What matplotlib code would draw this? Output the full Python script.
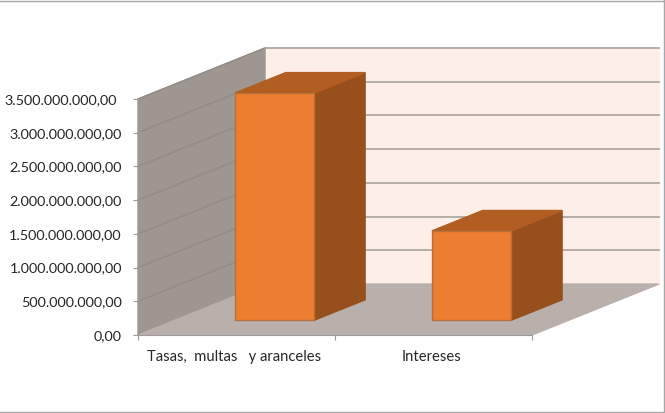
import matplotlib
matplotlib.use('Agg')
import matplotlib.pyplot as plt
from matplotlib.lines import Line2D
from matplotlib.patches import Polygon
from matplotlib.ticker import FuncFormatter
from matplotlib.transforms import ScaledTranslation

categories = ['Tasas,  multas   y aranceles', 'Intereses']
values = [3370000000, 1325000000]
y_ticks = [0, 500000000, 1000000000, 1500000000, 2000000000, 2500000000, 3000000000, 3500000000]

W, H = 665, 413
# front plane of the box, in pixels
LEFT, RIGHT, TOP, BOTTOM = 138, 532, 99, 335
Y_MAX = 3500000000
# depth offset of the oblique projection, in data units
DEPTH_X = 127 / ((RIGHT - LEFT) / 2)
DEPTH_Y = 51 / ((BOTTOM - TOP) / Y_MAX)


def project(x, y, d):
    return (x + d * DEPTH_X, y + d * DEPTH_Y)


def face(ax, corners, color, edge=None, z=1):
    pts = [project(*c) for c in corners]
    ax.add_patch(Polygon(pts, closed=True, facecolor=color, edgecolor=edge or color,
                         linewidth=1, clip_on=False, zorder=z))


def es_number(v, pos=None):
    return f'{v:,.2f}'.replace(',', 'X').replace('.', ',').replace('X', '.')


plt.rcParams['font.family'] = ['Lato', 'DejaVu Sans']

fig = plt.figure(figsize=(W / 100, H / 100), dpi=100)
ax = fig.add_axes([LEFT / W, 1 - BOTTOM / H, (RIGHT - LEFT) / W, (BOTTOM - TOP) / H])
ax.patch.set_visible(False)
ax.set_xlim(0, 2)
ax.set_ylim(0, Y_MAX)

# walls and floor
face(ax, [(0, 0, 1), (2, 0, 1), (2, Y_MAX, 1), (0, Y_MAX, 1)], '#FDEEE8')
face(ax, [(0, 0, 0), (0, 0, 1), (0, Y_MAX, 1), (0, Y_MAX, 0)], '#9E9791')
face(ax, [(0, 0, 0), (2, 0, 0), (2, 0, 1), (0, 0, 1)], '#B9AFAB')

# gridlines
for t in y_ticks[1:]:
    x0, y0 = project(0, t, 0)
    x1, y1 = project(0, t, 1)
    x2, y2 = project(2, t, 1)
    ax.plot([x0, x1], [y0, y1], color='#928C87', lw=1, clip_on=False, zorder=2)
    ax.plot([x1, x2], [y1, y2], color='#A8A29D', lw=1.2, clip_on=False, zorder=2)

# bars
bar_x = 0.305
bar_w = 0.403
d0, d1 = 0.29, 0.69
for i, v in enumerate(values):
    a, b = i + bar_x, i + bar_x + bar_w
    face(ax, [(b, 0, d0), (b, 0, d1), (b, v, d1), (b, v, d0)], '#97501C', z=3)
    face(ax, [(a, v, d0), (b, v, d0), (b, v, d1), (a, v, d1)], '#B25E22', z=3)
    face(ax, [(a, 0, d0), (b, 0, d0), (b, v, d0), (a, v, d0)], '#ED7D31', '#B8703A', z=4)

# axes
for s in ['top', 'right']:
    ax.spines[s].set_visible(False)
for s in ['left', 'bottom']:
    ax.spines[s].set_color('#9B9B9B')
    ax.spines[s].set_zorder(5)
ax.set_yticks(y_ticks)
ax.yaxis.set_major_formatter(FuncFormatter(es_number))
ax.tick_params(axis='y', length=3.6, width=0.8, color='#9B9B9B', pad=8, labelsize=10.4, labelcolor='#262626')
ax.set_xticks([0, 1, 2])
ax.set_xticklabels([])
ax.set_xticks([0.49, 1.49], minor=True)
ax.set_xticklabels(categories, minor=True)
ax.tick_params(axis='x', which='major', length=3.6, width=0.8, color='#9B9B9B')
ax.tick_params(axis='x', which='minor', length=0, pad=11, labelsize=10.6, labelcolor='#262626')

# top label sits a little further left in the original
fig.canvas.draw()
top_label = ax.yaxis.get_major_ticks()[-1].label1
top_label.set_transform(top_label.get_transform() + ScaledTranslation(-0.05, 0, fig.dpi_scale_trans))

# chart frame
for xs, ys in [([0, 665], [411.5, 411.5]), ([664, 664], [0, 412]), ([0, 665], [1, 1])]:
    fig.add_artist(Line2D([x / W for x in xs], [1 - y / H for y in ys], color='#A6A6A6', lw=1))

fig.savefig('out.png', dpi=100)
